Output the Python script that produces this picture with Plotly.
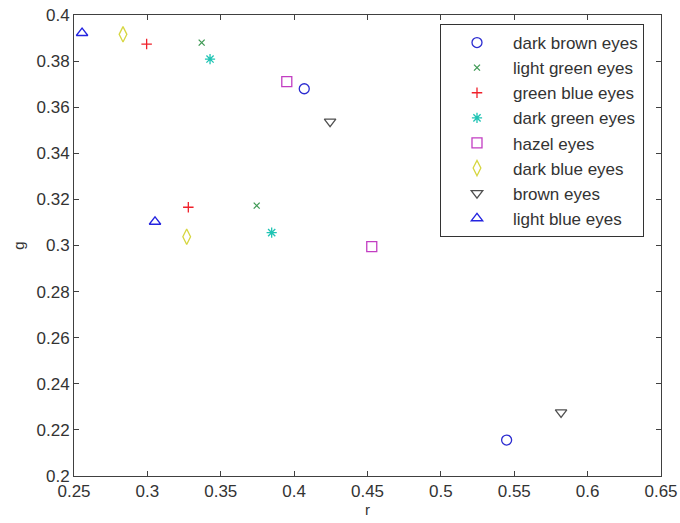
import plotly.graph_objects as go

names = ["dark brown eyes", "light green eyes", "green blue eyes", "dark green eyes",
         "hazel eyes", "dark blue eyes", "brown eyes", "light blue eyes"]
r_vals = [[0.4069, 0.5448], [0.3370, 0.3745], [0.2995, 0.3279], [0.3427, 0.3847],
          [0.3950, 0.4529], [0.2834, 0.3268], [0.4245, 0.5819], [0.2555, 0.3052]]
g_vals = [[0.3680, 0.2156], [0.3880, 0.3173], [0.3874, 0.3166], [0.3809, 0.3056],
          [0.3711, 0.2995], [0.3916, 0.3038], [0.3537, 0.2276], [0.3922, 0.3103]]
symbols = ["circle-open", "x-thin-open", "cross-thin-open", "asterisk-open",
           "square-open", "diamond-tall-open", "triangle-down-open", "triangle-up-open"]
colors = ["#2c2cd0", "#3f9a55", "#f0202a", "#1fc4b4", "#c23ec2", "#d6d640", "#505050", "#2424e0"]
sizes = [10, 6, 7.5, 8.5, 10, 11, 10, 10]

x_ticks = [0.25, 0.3, 0.35, 0.4, 0.45, 0.5, 0.55, 0.6, 0.65]
x_labels = ["0.25", "0.3", "0.35", "0.4", "0.45", "0.5", "0.55", "0.6", "0.65"]
y_ticks = [0.2, 0.22, 0.24, 0.26, 0.28, 0.3, 0.32, 0.34, 0.36, 0.38, 0.4]
y_labels = ["0.2", "0.22", "0.24", "0.26", "0.28", "0.3", "0.32", "0.34", "0.36", "0.38", "0.4"]

fig = go.Figure()
for i, n in enumerate(names):
    fig.add_trace(go.Scatter(
        x=r_vals[i], y=g_vals[i], mode="markers", name=n, legendgroup=n,
        marker=dict(symbol=symbols[i], color=colors[i], size=sizes[i],
                    line=dict(width=1.3, color=colors[i])),
    ))

axis_common = dict(showline=True, linecolor="#404040", linewidth=1, mirror="ticks",
                   ticks="inside", ticklen=5, tickcolor="#404040", showgrid=False,
                   zeroline=False, automargin=False,
                   tickfont=dict(family="Liberation Sans, Arial", size=17, color="#333333"))
fig.update_layout(
    width=680, height=523, paper_bgcolor="white", plot_bgcolor="white",
    margin=dict(l=74, r=19, t=15, b=47),
    font=dict(family="Liberation Sans, Arial", size=16, color="#333333"),
    xaxis=dict(range=[0.25, 0.65], tickvals=x_ticks, ticktext=x_labels,
               title=dict(text="r", standoff=3, font=dict(size=15)), **axis_common),
    yaxis=dict(range=[0.2, 0.4], tickvals=y_ticks, ticktext=y_labels,
               title=dict(text="g", standoff=8, font=dict(size=15)), **axis_common),
    legend=dict(x=0.6235, y=0.9805, xanchor="left", yanchor="top",
                bordercolor="#333333", borderwidth=1, bgcolor="white",
                traceorder="grouped", tracegroupgap=0, itemwidth=62,
                font=dict(family="Liberation Sans, Arial", size=17, color="#333333")),
)
fig.write_html("out.html", config={"displayModeBar": False},
               post_script="document.body.style.margin='0px';document.body.style.overflow='hidden';")
